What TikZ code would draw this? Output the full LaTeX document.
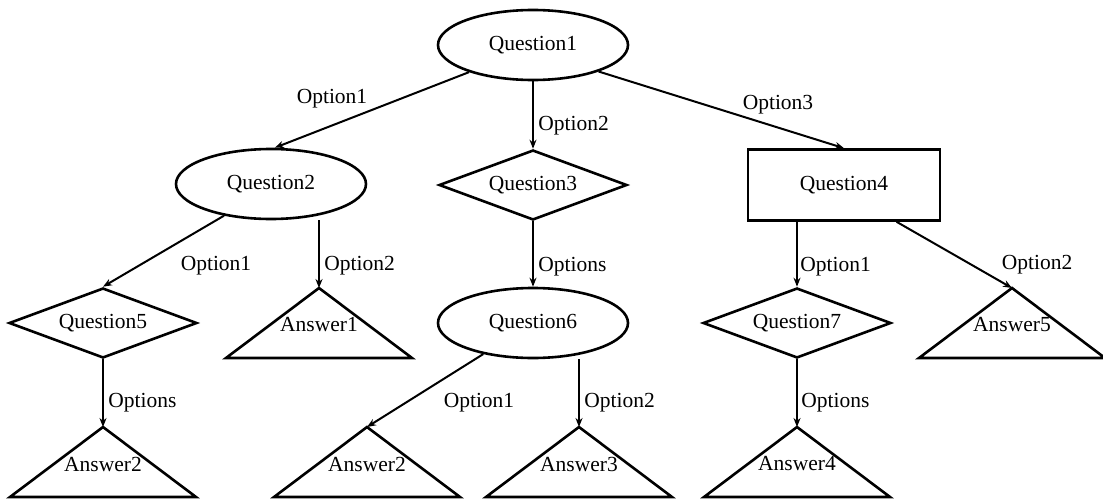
\documentclass[tikz,border=0pt]{standalone}
\usepackage{fontspec}
\setmainfont{Liberation Serif}
\usetikzlibrary{shapes.geometric,arrows.meta,calc}
\begin{document}
\begin{tikzpicture}[x=1pt,y=-1pt,
  every node/.style={font=\fontsize{21.5}{25}\selectfont},
  line width=2.6pt,
  qellipse/.style={draw, ellipse, minimum width=190pt, minimum height=70pt, inner sep=0pt},
  qdiamond/.style={draw, diamond, aspect=2.7, minimum width=188pt, minimum height=70pt, inner sep=0pt},
  qbox/.style={draw, rectangle, minimum width=192pt, minimum height=71pt, inner sep=0pt},
  link/.style={-{Stealth[length=9pt,width=7pt]}, line width=2pt},
  answer/.style={line width=2.6pt, line join=miter},
  lbl/.style={inner sep=0pt}
]
\useasboundingbox (0,0) rectangle (1103,498);

% question nodes
\node[qellipse] (q1) at (533,45)  {Question1};
\node[qellipse] (q2) at (271,184) {Question2};
\node[qdiamond] (q3) at (533,185) {Question3};
\node[qbox]     (q4) at (844,185) {Question4};
\node[qdiamond] (q5) at (103,323) {Question5};
\node[qellipse] (q6) at (533,323) {Question6};
\node[qdiamond] (q7) at (797,323) {Question7};

% answer triangles (apex points)
\coordinate (a1)  at (319,288);
\coordinate (a2)  at (103,427);
\coordinate (a2b) at (367,427);
\coordinate (a3)  at (579,427);
\coordinate (a4)  at (797,427);
\coordinate (a5)  at (1012,288);

\foreach \p in {a1,a2,a2b,a3,a4,a5}
  \draw[answer] (\p) -- ++(-93,70) -- ++(186,0) -- cycle;

\node[lbl] at ($(a1)+(0,37)$)  {Answer1};
\node[lbl] at ($(a2)+(0,37)$)  {Answer2};
\node[lbl] at ($(a2b)+(0,37)$) {Answer2};
\node[lbl] at ($(a3)+(0,37)$)  {Answer3};
\node[lbl] at ($(a4)+(0,37)$)  {Answer4};
\node[lbl] at ($(a5)+(0,37)$)  {Answer5};

% connectors
\draw[link] (q1.203) -- (q2.84);
\draw[link] (q1.south) -- (q3.north);
\draw[link] (q1.338) -- (q4.north);
\draw[link] (q2.214.5) -- (q5.north);
\draw[link] (a1 |- q2.south) -- (a1);
\draw[link] (q3.south) -- (q6.north);
\draw[link] (q7.north |- q4.south) -- (q7.north);
\draw[link] (q4.325.2) -- (a5);
\draw[link] (q5.south) -- (a2);
\draw[link] (q6.212.9) -- (a2b);
\draw[link] (a3 |- q6.south) -- (a3);
\draw[link] (q7.south) -- (a4);

% connector labels
\node[lbl] at (332,99) {Option1};
\node[lbl,anchor=west] at (537,126) {Option2};
\node[lbl] at (778,105) {Option3};
\node[lbl] at (216,266) {Option1};
\node[lbl,anchor=west] at (323,266) {Option2};
\node[lbl,anchor=west] at (537,267) {Options};
\node[lbl,anchor=west] at (799,267) {Option1};
\node[lbl] at (1037,265) {Option2};
\node[lbl,anchor=west] at (107,403) {Options};
\node[lbl] at (479,403) {Option1};
\node[lbl,anchor=west] at (583,403) {Option2};
\node[lbl,anchor=west] at (800,403) {Options};
\end{tikzpicture}
\end{document}
